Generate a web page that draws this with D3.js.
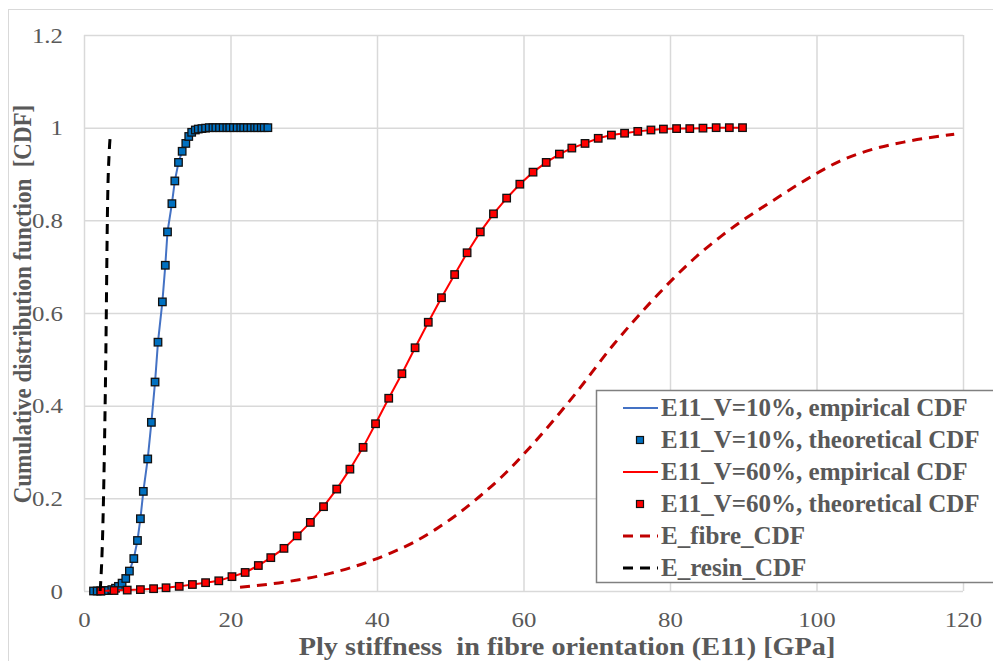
<!DOCTYPE html>
<html>
<head>
<meta charset="utf-8">
<script src="https://cdn.jsdelivr.net/npm/d3@7"></script>
<style>
  body { margin: 0; background: #fff; }
  text { font-family: "Liberation Serif", "Times New Roman", serif; fill: #595959; }
</style>
</head>
<body>
<svg id="chart"></svg>
<script>
// ---- data ----
const xTicks = [0, 20, 40, 60, 80, 100, 120]
const yTicks = [0, 0.2, 0.4, 0.6, 0.8, 1, 1.2]

// E11, V=10%  (GPa / CDF)
const blueX = [1.3, 1.8, 2.3, 2.8, 3.3, 3.8, 4.3, 4.7, 5.2, 5.7, 6.2, 6.8, 7.3, 7.7, 8.1, 8.7, 9.2, 9.7, 10.1, 10.7,
  11.1, 11.4, 12.0, 12.4, 12.9, 13.4, 13.9, 14.3, 14.7, 15.2, 15.6, 16.1, 16.6, 17.1, 17.6, 18.0, 18.5, 19.0, 19.5,
  19.9, 20.4, 20.9, 21.4, 21.8, 22.3, 22.8, 23.3, 23.7, 24.2, 24.6, 25.1]
const blueY = [0, 0, 0, 0.001, 0.001, 0.003, 0.006, 0.010, 0.017, 0.027, 0.043, 0.070, 0.109, 0.156, 0.215, 0.285,
  0.364, 0.451, 0.537, 0.624, 0.703, 0.775, 0.836, 0.885, 0.925, 0.949, 0.966, 0.981, 0.990, 0.995, 0.997, 0.998,
  0.999, 1, 1, 1, 1, 1, 1, 1, 1, 1, 1, 1, 1, 1, 1, 1, 1, 1, 1]

// E11, V=60%
const redX = [2.3, 4.1, 5.9, 7.7, 9.5, 11.2, 13.0, 14.8, 16.6, 18.4, 20.2, 22.0, 23.8, 25.5, 27.3, 29.1, 30.9, 32.7,
  34.5, 36.3, 38.1, 39.8, 41.6, 43.4, 45.2, 47.0, 48.8, 50.6, 52.3, 54.1, 55.9, 57.7, 59.5, 61.3, 63.1, 64.9, 66.6,
  68.4, 70.2, 72.0, 73.8, 75.6, 77.4, 79.1, 80.9, 82.7, 84.5, 86.3, 88.1, 89.9]
const redY = [0, 0.001, 0.002, 0.003, 0.005, 0.007, 0.010, 0.014, 0.018, 0.022, 0.031, 0.040, 0.055, 0.072, 0.092,
  0.119, 0.148, 0.182, 0.220, 0.263, 0.310, 0.361, 0.416, 0.469, 0.525, 0.580, 0.633, 0.683, 0.730, 0.775, 0.814,
  0.848, 0.878, 0.904, 0.925, 0.943, 0.956, 0.966, 0.977, 0.984, 0.988, 0.992, 0.995, 0.997, 0.998, 0.998, 0.999,
  1, 1, 1]

// E_fibre
const fibreX = [21.3, 27.7, 33.6, 39.5, 42, 45, 48, 51, 54, 57, 61, 66.8, 72.3, 77.7, 83.2, 87, 90.5, 94.1, 98.7,
  103.2, 107.8, 112.3, 118.8]
const fibreY = [0.008, 0.020, 0.038, 0.067, 0.083, 0.105, 0.133, 0.166, 0.204, 0.246, 0.312, 0.420, 0.532, 0.629,
  0.716, 0.766, 0.806, 0.843, 0.889, 0.928, 0.954, 0.970, 0.986]

// E_resin
const resinX = [2.2, 2.3, 2.55, 2.96, 3.23, 3.45, 3.64]
const resinY = [0, 0.024, 0.125, 0.485, 0.845, 0.95, 0.99]

const legendLabels = [
  'E11_V=10%, empirical CDF',
  'E11_V=10%, theoretical CDF',
  'E11_V=60%, empirical CDF',
  'E11_V=60%, theoretical CDF',
  'E_fibre_CDF',
  'E_resin_CDF'
]

// ---- drawing ----
const width = 993
const height = 661
const SX = 1.13   // the picture is stretched a little sideways, text included

const svg = d3.select('#chart')
  .attr('width', width)
  .attr('height', height)

const x = d3.scaleLinear().domain([0, 120]).range([84, 963])
const y = d3.scaleLinear().domain([0, 1.2]).range([591, 35])

// chart area frame
svg.append('rect')
  .attr('x', 8.5).attr('y', 9.5)
  .attr('width', width).attr('height', height)
  .attr('fill', 'none')
  .attr('stroke', '#d9d9d9')

// grid + tick labels
const xAxis = svg.append('g')
  .attr('transform', `translate(0,${y(0)})`)
  .call(d3.axisBottom(x).tickValues(xTicks).tickSize(-(y(0) - y(1.2))).tickFormat(d3.format('d')))
const yAxis = svg.append('g')
  .attr('transform', `translate(${x(0)},0)`)
  .call(d3.axisLeft(y).tickValues(yTicks).tickSize(-(x(120) - x(0))).tickFormat(d => d3.format('~g')(d)))

for (const ax of [xAxis, yAxis]) {
  ax.select('.domain').remove()
  ax.selectAll('.tick line').attr('stroke', '#d9d9d9').attr('stroke-width', 1.5)
  ax.selectAll('.tick text')
    .style('font-size', '22px')
    .attr('fill', '#595959')
}
xAxis.selectAll('.tick text').attr('y', 36).attr('dy', 0).attr('transform', `scale(${SX},1)`)
yAxis.selectAll('.tick text').attr('x', -21 / SX).attr('dy', '0.32em').attr('transform', `scale(${SX},1)`)

// axis titles
svg.append('text')
  .attr('transform', `translate(567,655) scale(${SX},1)`)
  .attr('text-anchor', 'middle')
  .style('font-size', '25px').style('font-weight', 'bold')
  .style('white-space', 'pre')
  .text('Ply stiffness  in fibre orientation (E11) [GPa]')

svg.append('text')
  .attr('transform', `translate(31,304) scale(${SX},1) rotate(-90)`)
  .attr('text-anchor', 'middle')
  .style('font-size', '23px').style('font-weight', 'bold')
  .style('white-space', 'pre')
  .text('Cumulative distribution function  [CDF]')

// series
const line = d3.line().x(d => x(d[0])).y(d => y(d[1]))
const smooth = d3.line().x(d => x(d[0])).y(d => y(d[1])).curve(d3.curveMonotoneX)
const blue = d3.zip(blueX, blueY)
const red = d3.zip(redX, redY)

const plot = svg.append('g')

plot.append('path').datum(blue)
  .attr('d', line).attr('fill', 'none').attr('stroke', '#4472c4').attr('stroke-width', 2)

plot.append('g').selectAll('rect').data(blue).join('rect')
  .attr('x', d => x(d[0]) - 3.75).attr('y', d => y(d[1]) - 3.75)
  .attr('width', 7.5).attr('height', 7.5)
  .attr('fill', '#0070c0').attr('stroke', '#111').attr('stroke-width', 1.3)

plot.append('path').datum(red)
  .attr('d', line).attr('fill', 'none').attr('stroke', '#ff0000').attr('stroke-width', 2)

plot.append('g').selectAll('rect').data(red).join('rect')
  .attr('x', d => x(d[0]) - 3.75).attr('y', d => y(d[1]) - 3.75)
  .attr('width', 7.5).attr('height', 7.5)
  .attr('fill', '#ff0000').attr('stroke', '#111').attr('stroke-width', 1.3)

plot.append('path').datum(d3.zip(fibreX, fibreY))
  .attr('d', smooth).attr('fill', 'none')
  .attr('stroke', '#c00000').attr('stroke-width', 3).attr('stroke-dasharray', '10,7')

plot.append('path').datum(d3.zip(resinX, resinY))
  .attr('d', smooth).attr('fill', 'none')
  .attr('stroke', '#000').attr('stroke-width', 3).attr('stroke-dasharray', '10,7')

// legend
const legend = svg.append('g')
legend.append('rect')
  .attr('x', 596.5).attr('y', 390.5)
  .attr('width', 420).attr('height', 192)
  .attr('fill', '#fff').attr('stroke', '#808080').attr('stroke-width', 1.5)

const swatch = [
  { kind: 'line', color: '#4472c4' },
  { kind: 'mark', color: '#0070c0' },
  { kind: 'line', color: '#ff0000' },
  { kind: 'mark', color: '#ff0000' },
  { kind: 'dash', color: '#c00000' },
  { kind: 'dash', color: '#000' }
]

const item = legend.selectAll('.item').data(legendLabels).join('g')
  .attr('class', 'item')
  .attr('transform', (d, i) => `translate(0,${408 + i * 32})`)

item.each(function (d, i) {
  const g = d3.select(this)
  const s = swatch[i]
  if (s.kind === 'mark') {
    g.append('rect').attr('x', 636.5).attr('y', -3.5).attr('width', 7).attr('height', 7)
      .attr('fill', s.color).attr('stroke', '#111').attr('stroke-width', 1.2)
  } else {
    g.append('line').attr('x1', 623).attr('x2', 658).attr('y1', 0).attr('y2', 0)
      .attr('stroke', s.color)
      .attr('stroke-width', s.kind === 'dash' ? 3 : 2)
      .attr('stroke-dasharray', s.kind === 'dash' ? '10,7' : null)
  }
  g.append('text')
    .attr('transform', `translate(661,8)`)
    .style('font-size', '25px').style('font-weight', 'bold')
    .text(d)
})
</script>
</body>
</html>
